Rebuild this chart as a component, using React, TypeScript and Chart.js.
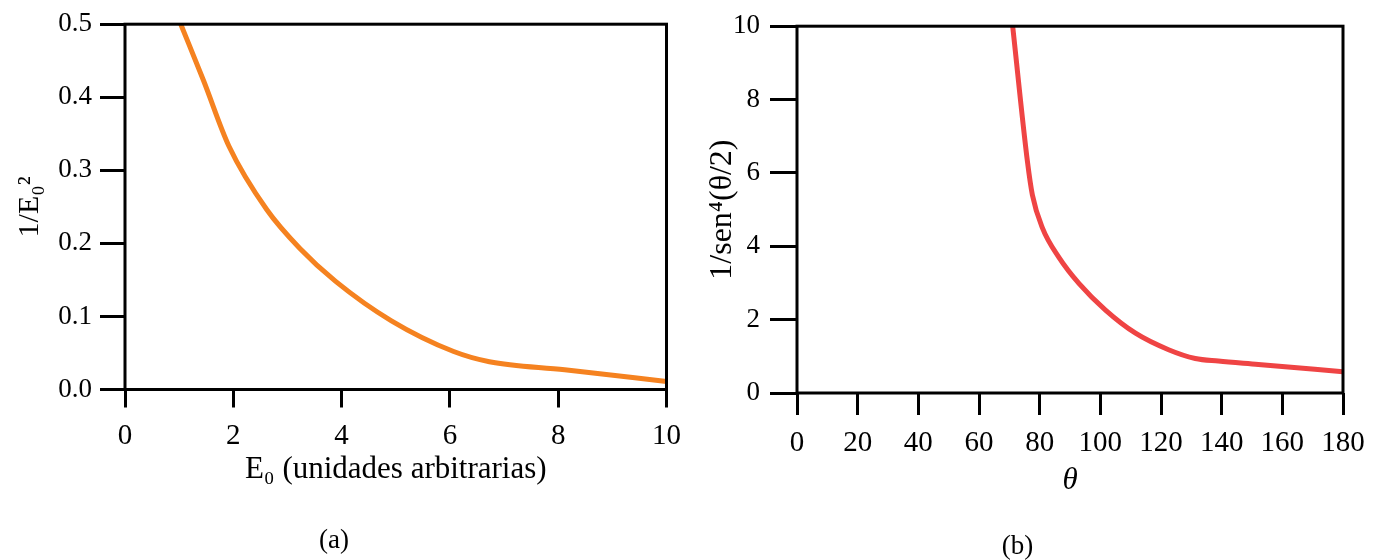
import React, { useEffect, useRef } from 'react';
import { Chart, registerables } from 'chart.js';

Chart.register(...registerables);

// ---- Panel (a) data ----
const energyX = [1.03, 1.45, 1.92, 2.62, 3.23, 3.89, 4.92, 6.07, 6.73, 8.12, 10];
const invEnergySq = [0.5, 0.423, 0.333, 0.246, 0.193, 0.148, 0.094, 0.052, 0.038, 0.027, 0.011];
const energyTickValues = [0, 2, 4, 6, 8, 10];
const energyTickLabels = ['0', '2', '4', '6', '8', '10'];
const invTickValues = [0, 0.1, 0.2, 0.3, 0.4, 0.5];
const invTickLabels = ['0.0', '0.1', '0.2', '0.3', '0.4', '0.5'];

// ---- Panel (b) data ----
const thetaX = [71.1, 76.0, 77.6, 80.9, 86.4, 93.0, 101.7, 111.6, 122.5, 131.3, 138.9, 152.1, 180];
const invSin4 = [10, 6.29, 5.4, 4.5, 3.69, 2.98, 2.26, 1.63, 1.18, 0.94, 0.87, 0.78, 0.58];
const thetaTickValues = [0, 20, 40, 60, 80, 100, 120, 140, 160, 180];
const thetaTickLabels = ['0', '20', '40', '60', '80', '100', '120', '140', '160', '180'];
const sinTickValues = [0, 2, 4, 6, 8, 10];
const sinTickLabels = ['0', '2', '4', '6', '8', '10'];

const FAMILY = "'Liberation Serif', 'DejaVu Serif', serif";

const framePlugin = {
  id: 'frame',
  afterDatasetsDraw(chart: any) {
    const { ctx, chartArea: a } = chart;
    ctx.save();
    ctx.strokeStyle = '#000';
    ctx.lineWidth = 3;
    ctx.strokeRect(a.left, a.top, a.right - a.left, a.bottom - a.top);
    ctx.restore();
  },
};

type PanelSpec = {
  xs: number[];
  ys: number[];
  color: string;
  xMin: number; xMax: number; xTicks: number[]; xLabels: string[];
  yMin: number; yMax: number; yTicks: number[]; yLabels: string[];
  xTitle: string; xTitleItalic: boolean; yTitle: string; yTitleSize: number; caption: string;
  padRight: number; padTop: number;
  yWidth: number; yTickLen: number; yTickPad: number; yTitlePad: number;
  xHeight: number; xTickLen: number; xTickPad: number; xTitlePadBottom: number;
  captionPadBottom: number;
};

function Panel({ spec }: { spec: PanelSpec }) {
  const ref = useRef<HTMLCanvasElement | null>(null);
  useEffect(() => {
    if (!ref.current) return;
    const s = spec;
    const chart = new Chart(ref.current, {
      type: 'line',
      data: {
        datasets: [
          {
            data: s.xs.map((x, i) => ({ x, y: s.ys[i] })),
            borderColor: s.color,
            borderWidth: 5,
            pointRadius: 0,
            fill: false,
            cubicInterpolationMode: 'monotone',
          },
        ],
      },
      options: {
        animation: false,
        responsive: false,
        layout: { padding: { left: 0, right: s.padRight, top: s.padTop, bottom: 0 } },
        plugins: {
          legend: { display: false },
          tooltip: { enabled: false },
          title: {
            display: true,
            text: s.caption,
            position: 'bottom',
            color: '#000',
            font: { family: FAMILY, size: 27, weight: 'normal', lineHeight: 1 },
            padding: { top: 0, bottom: s.captionPadBottom },
          },
        },
        scales: {
          x: {
            type: 'linear',
            min: s.xMin,
            max: s.xMax,
            afterBuildTicks: (sc: any) => { sc.ticks = s.xTicks.map((v) => ({ value: v })); },
            afterFit: (sc: any) => { sc.height = s.xHeight; },
            border: { display: false },
            grid: { drawOnChartArea: false, drawTicks: true, tickLength: s.xTickLen, color: '#000', lineWidth: 3 },
            ticks: {
              padding: s.xTickPad,
              color: '#000',
              autoSkip: false,
              maxRotation: 0,
              font: { family: FAMILY, size: 29, lineHeight: 1.2 },
              callback: (_v: any, i: number) => s.xLabels[i],
            },
            title: {
              display: true,
              text: s.xTitle,
              color: '#000',
              font: { family: FAMILY, size: 31, style: s.xTitleItalic ? 'italic' : 'normal', lineHeight: 1.2 },
              padding: { top: 0, bottom: s.xTitlePadBottom },
            },
          },
          y: {
            type: 'linear',
            min: s.yMin,
            max: s.yMax,
            afterBuildTicks: (sc: any) => { sc.ticks = s.yTicks.map((v) => ({ value: v })); },
            afterFit: (sc: any) => { sc.width = s.yWidth; },
            border: { display: false },
            grid: { drawOnChartArea: false, drawTicks: true, tickLength: s.yTickLen, color: '#000', lineWidth: 3 },
            ticks: {
              padding: s.yTickPad,
              color: '#000',
              autoSkip: false,
              font: { family: FAMILY, size: 27, lineHeight: 1.2 },
              callback: (_v: any, i: number) => s.yLabels[i],
            },
            title: {
              display: true,
              text: s.yTitle,
              color: '#000',
              font: { family: FAMILY, size: s.yTitleSize, lineHeight: 1.2 },
              padding: { top: s.yTitlePad, bottom: 0 },
            },
          },
        },
      } as any,
      plugins: [framePlugin],
    });
    return () => chart.destroy();
  }, [spec]);
  return <canvas ref={ref} width={692} height={560} style={{ display: 'block' }} />;
}

const specA: PanelSpec = {
  xs: energyX, ys: invEnergySq, color: '#f58220',
  xMin: 0, xMax: 10, xTicks: energyTickValues, xLabels: energyTickLabels,
  yMin: 0, yMax: 0.5, yTicks: invTickValues, yLabels: invTickLabels,
  xTitle: 'E₀ (unidades arbitrarias)', xTitleItalic: false, yTitle: '1/E₀²', yTitleSize: 30, caption: '(a)',
  padRight: 24, padTop: 20.5,
  yWidth: 125, yTickLen: 25, yTickPad: 8, yTitlePad: 12,
  xHeight: 138, xTickLen: 18, xTickPad: 11, xTitlePadBottom: 38.9,
  captionPadBottom: 5.5,
};

const specB: PanelSpec = {
  xs: thetaX, ys: invSin4, color: '#ef4444',
  xMin: 0, xMax: 180, xTicks: thetaTickValues, xLabels: thetaTickLabels,
  yMin: 0, yMax: 10, yTicks: sinTickValues, yLabels: sinTickLabels,
  xTitle: 'θ', xTitleItalic: true, yTitle: '1/sen⁴(θ/2)', yTitleSize: 32, caption: '(b)',
  padRight: 41, padTop: 22.5,
  yWidth: 105, yTickLen: 27, yTickPad: 10, yTitlePad: 11,
  xHeight: 140, xTickLen: 22, xTickPad: 10.6, xTitlePadBottom: 33.4,
  captionPadBottom: 0,
};

export default function App() {
  useEffect(() => {
    document.body.style.margin = '0';
  }, []);
  return (
    <div style={{ display: 'flex', width: 1384, height: 560, background: '#fff' }}>
      <Panel spec={specA} />
      <Panel spec={specB} />
    </div>
  );
}
